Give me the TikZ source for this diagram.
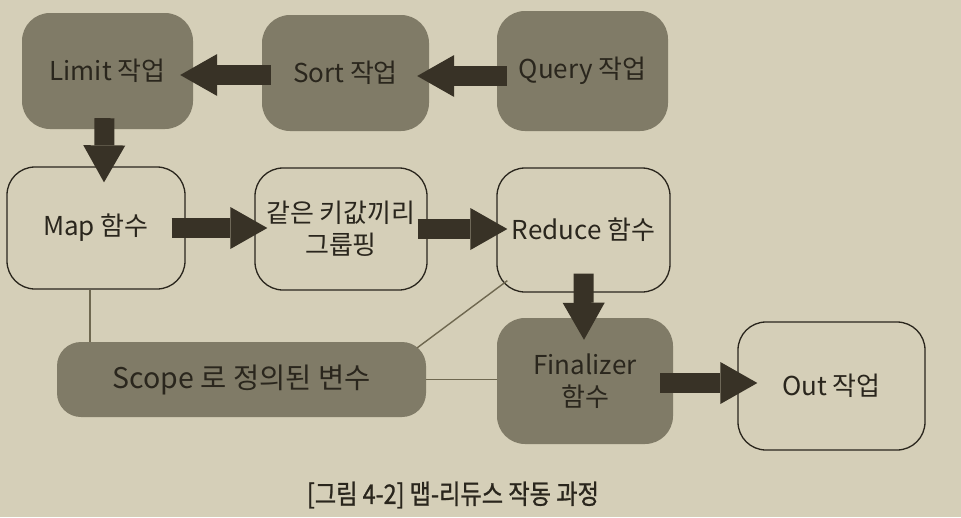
\documentclass[tikz,border=0pt]{standalone}
\usepackage{fontspec}
\setmainfont{Noto Sans CJK KR}
\newfontfamily\capfont{Noto Sans CJK KR}[FakeStretch=0.86,FakeBold=0.9]
\usetikzlibrary{arrows.meta,calc}
\definecolor{paper}{HTML}{D5CFB8}
\definecolor{boxgray}{HTML}{807B67}
\definecolor{ink}{HTML}{2A261D}
\definecolor{arrowc}{HTML}{383226}
\definecolor{thin}{HTML}{6F6850}
\tikzset{
  darkbox/.style={rectangle, rounded corners=28pt, fill=boxgray, draw=none, inner sep=0pt, text=ink, font=\fontsize{26}{32}\selectfont, align=center},
  lightbox/.style={rectangle, rounded corners=28pt, fill=paper, draw=ink, line width=1.3pt, inner sep=0pt, text=ink, font=\fontsize{26}{32}\selectfont, align=center},
  bigarrow/.style={draw=arrowc, line width=20pt, -{Triangle[length=37pt,width=42pt,line width=0pt]}},
  thinline/.style={draw=thin, line width=1.4pt},
}
\begin{document}
\begin{tikzpicture}[x=1pt,y=-1pt]
\fill[paper] (0,0) rectangle (961,517);
\useasboundingbox (0,0) rectangle (961,517);
\node[darkbox, minimum width=171pt, minimum height=116pt] (limit) at (107.5,71) {Limit 작업};
\node[darkbox, minimum width=167pt, minimum height=116pt] (sort) at (345.5,73) {Sort 작업};
\node[darkbox, minimum width=171pt, minimum height=120pt] (query) at (582.5,71) {Query 작업};
\node[lightbox, minimum width=178pt, minimum height=122pt] (map) at (96,228) {Map 함수};
\node[lightbox, minimum width=172pt, minimum height=122pt] (group) at (341,229) {같은 키값끼리\\그룹핑};
\node[lightbox, minimum width=173pt, minimum height=124pt] (reduce) at (583.5,230) {Reduce 함수};
\node[darkbox, rounded corners=24pt, minimum width=369pt, minimum height=75pt, font=\fontsize{28.5}{32}\selectfont] (scope) at (241.5,379.5) {Scope 로 정의된 변수};
\node[darkbox, minimum width=176pt, minimum height=126pt] (fin) at (585,381) {Finalizer\\함수};
\node[lightbox, minimum width=187pt, minimum height=128pt] (out) at (831.5,386) {Out 작업};
\node[text=ink, font=\capfont\fontsize{27}{30}\selectfont] (cap) at (453,495) {[그림 4-2] 맵-리듀스 작동 과정};
% thin connectors
\draw[thinline] (map.south -| 90,0) -- (scope.north -| 90,0);
\draw[thinline] ($(scope.north east)+(-9,6)$) -- ($(reduce.south west)+(11,-12)$);
\draw[thinline] (scope.east) -- (scope.east -| fin.west);
% block arrows
\draw[bigarrow] ($(sort.west)+(9,2)$) -- ($(limit.east)+(-13,4)$);
\draw[bigarrow] ($(query.west)+(10,5)$) -- ($(sort.east)+(-12,3)$);
\draw[bigarrow] ($(limit.south)+(-3,-11)$) -- ($(map.north)+(8,16)$);
\draw[bigarrow] ($(map.east)+(-14,0)$) -- ($(group.west)+(13,-1)$);
\draw[bigarrow] ($(group.east)+(-10,0)$) -- ($(reduce.west)+(11,-1)$);
\draw[bigarrow] ($(reduce.south)+(0,-19)$) -- ($(fin.north)+(-1,22)$);
\draw[bigarrow] ($(fin.east)+(-13,2)$) -- ($(out.west)+(20,-3)$);
\end{tikzpicture}
\end{document}
